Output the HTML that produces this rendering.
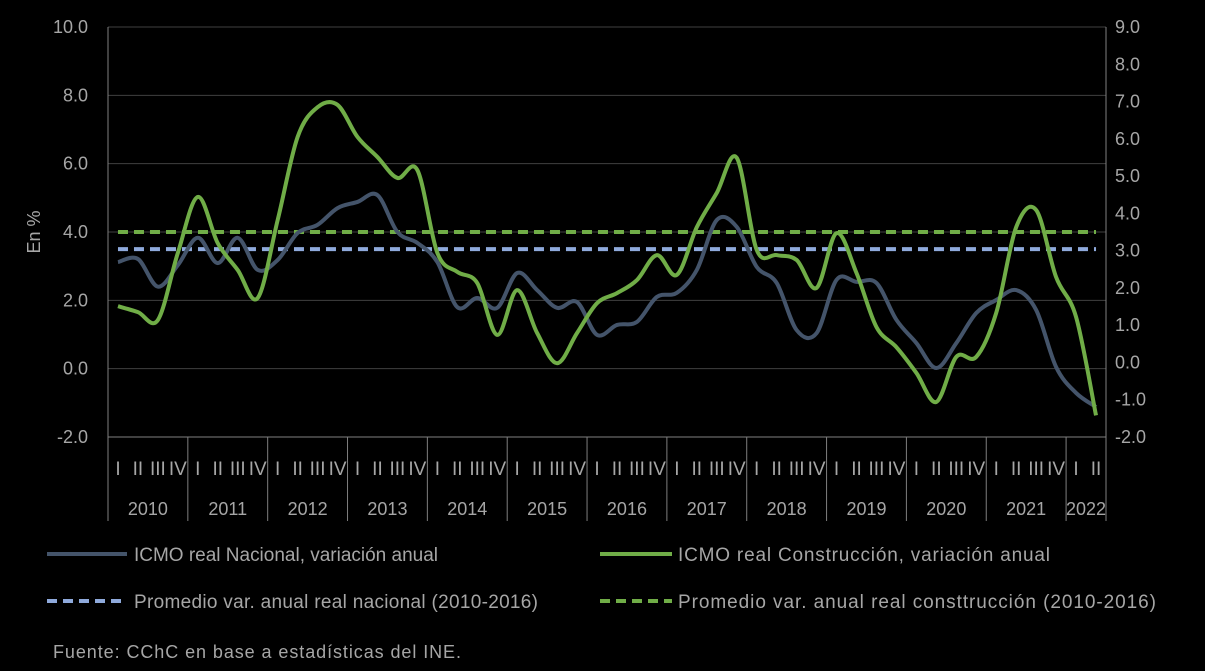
<!DOCTYPE html>
<html><head><meta charset="utf-8"><style>
html,body{margin:0;padding:0;background:#000;}
svg{display:block;font-family:"Liberation Sans",sans-serif;}
</style></head><body>
<svg id="chart" width="1205" height="671" viewBox="0 0 1205 671">
<rect width="1205" height="671" fill="#000"/>
<g id="grid"></g><g id="axes"></g><g id="series"></g>
<g font-size="19" fill="#a6a6a6">
 <g><line x1="47" y1="554" x2="127" y2="554" stroke="#44546a" stroke-width="4"/><text x="134" y="561" textLength="304">ICMO real Nacional, variación anual</text></g>
 <g><line x1="600" y1="554" x2="672" y2="554" stroke="#70ad47" stroke-width="4"/><text x="678" y="561" textLength="372">ICMO real Construcción, variación anual</text></g>
 <g><line x1="47" y1="601" x2="127" y2="601" stroke="#8faadc" stroke-width="4" stroke-dasharray="10,6"/><text x="134" y="608" textLength="404">Promedio var. anual real nacional (2010-2016)</text></g>
 <g><line x1="600" y1="601" x2="672" y2="601" stroke="#70ad47" stroke-width="4" stroke-dasharray="10,6"/><text x="678" y="608" textLength="478">Promedio var. anual real consttrucción (2010-2016)</text></g>
</g>
<text x="53" y="658" font-size="18" fill="#a6a6a6" textLength="408">Fuente: CChC en base a estadísticas del INE.</text>
</svg>
<script>
const years=["2010","2011","2012","2013","2014","2015","2016","2017","2018","2019","2020","2021","2022"];
const quarterLabels=["I","II","III","IV"];
const leftTicks=[-2,0,2,4,6,8,10];
const rightTicks=[-2,-1,0,1,2,3,4,5,6,7,8,9];
const nacional=[3.12,3.21,2.4,3.03,3.83,3.09,3.83,2.89,3.18,3.97,4.21,4.70,4.88,5.08,4.00,3.68,3.12,1.80,2.07,1.78,2.80,2.30,1.78,1.95,0.99,1.28,1.37,2.10,2.22,2.89,4.35,4.15,2.98,2.51,1.13,1.04,2.60,2.54,2.51,1.43,0.75,0.02,0.75,1.63,2.01,2.30,1.72,0.05,-0.71,-1.12];
const construccion=[1.51,1.35,1.14,2.94,4.44,3.20,2.48,1.73,3.82,6.05,6.85,6.91,6.05,5.51,4.95,5.16,2.94,2.43,2.13,0.74,1.94,0.79,-0.02,0.79,1.59,1.86,2.21,2.88,2.35,3.63,4.55,5.49,3.02,2.88,2.75,2.00,3.47,2.40,0.95,0.41,-0.28,-1.06,0.15,0.15,1.33,3.63,4.09,2.29,1.22,-1.42];
const promNacional=[3.5];
const promConstruccion=[3.5];
const NS="http://www.w3.org/2000/svg";
const X0=108,X1=1106,Y0=27,Y1=437;
const nQ=nacional.length;
const qw=(X1-X0)/50;
function xq(i){return X0+(i+0.5)*qw;}
function yL(v){return Y1-(v+2)/12*(Y1-Y0);}
function yR(v){return Y1-(v+2)/11*(Y1-Y0);}
function mk(tag,attrs,parent,txt){const e=document.createElementNS(NS,tag);for(const k in attrs)e.setAttribute(k,attrs[k]);if(txt!==undefined)e.textContent=txt;parent.appendChild(e);return e;}
const grid=document.getElementById('grid'),axes=document.getElementById('axes'),ser=document.getElementById('series');
leftTicks.forEach(v=>{
 const l=mk('line',{x1:X0,x2:X1,y1:yL(v),y2:yL(v),stroke:v===-2?'#7f7f7f':'#404040','stroke-width':1},grid);
 
 
 const t=mk('text',{x:88,y:yL(v)+6,'text-anchor':'end','font-size':18,fill:'#a6a6a6'},axes,v.toFixed(1));
 
 
});
rightTicks.forEach(v=>{
 const t=mk('text',{x:1115,y:yR(v)+6,'font-size':18,fill:'#a6a6a6'},axes,v.toFixed(1));
 
 
});
mk('line',{x1:X0,x2:X0,y1:Y0,y2:Y1,stroke:'#7f7f7f'},axes);
mk('line',{x1:X1,x2:X1,y1:Y0,y2:Y1,stroke:'#7f7f7f'},axes);
const yt=mk('text',{x:40,y:232,'font-size':18,fill:'#a6a6a6','text-anchor':'middle',transform:'rotate(-90 40 232)'},axes,'En %');


for(let i=0;i<nQ;i++){
 const t=mk('text',{x:xq(i),y:475,'text-anchor':'middle','font-size':19,fill:'#a6a6a6'},axes,quarterLabels[i%4]);
 
 
}
years.forEach((y,k)=>{
 const a=X0+k*4*qw,b=Math.min(X1,a+4*qw);
 mk('line',{x1:a,x2:a,y1:Y1,y2:521,stroke:'#7f7f7f'},axes);
 if(k===years.length-1)mk('line',{x1:b,x2:b,y1:Y1,y2:521,stroke:'#7f7f7f'},axes);
 const t=mk('text',{x:(a+b)/2,y:515,'text-anchor':'middle','font-size':18,fill:'#a6a6a6'},axes,y);
 
 
});
function smooth(pts){let d='M'+pts[0][0]+','+pts[0][1];for(let i=0;i<pts.length-1;i++){const p0=pts[i-1]||pts[i],p1=pts[i],p2=pts[i+1],p3=pts[i+2]||p2;const c1=[p1[0]+(p2[0]-p0[0])/6,p1[1]+(p2[1]-p0[1])/6],c2=[p2[0]-(p3[0]-p1[0])/6,p2[1]-(p3[1]-p1[1])/6];d+=` C${c1[0]},${c1[1]} ${c2[0]},${c2[1]} ${p2[0]},${p2[1]}`;}return d;}
const dn=mk('line',{x1:xq(0),x2:xq(nQ-1),y1:yL(promNacional[0]),y2:yL(promNacional[0]),stroke:'#8faadc','stroke-width':4,'stroke-dasharray':'10,6'},ser);


const dc=mk('line',{x1:xq(0),x2:xq(nQ-1),y1:yR(promConstruccion[0]),y2:yR(promConstruccion[0]),stroke:'#70ad47','stroke-width':4,'stroke-dasharray':'10,6'},ser);


const pn=mk('path',{d:smooth(nacional.map((v,i)=>[xq(i),yL(v)])),fill:'none',stroke:'#44546a','stroke-width':4},ser);


const pc=mk('path',{d:smooth(construccion.map((v,i)=>[xq(i),yR(v)])),fill:'none',stroke:'#70ad47','stroke-width':4},ser);


</script>
</body></html>
